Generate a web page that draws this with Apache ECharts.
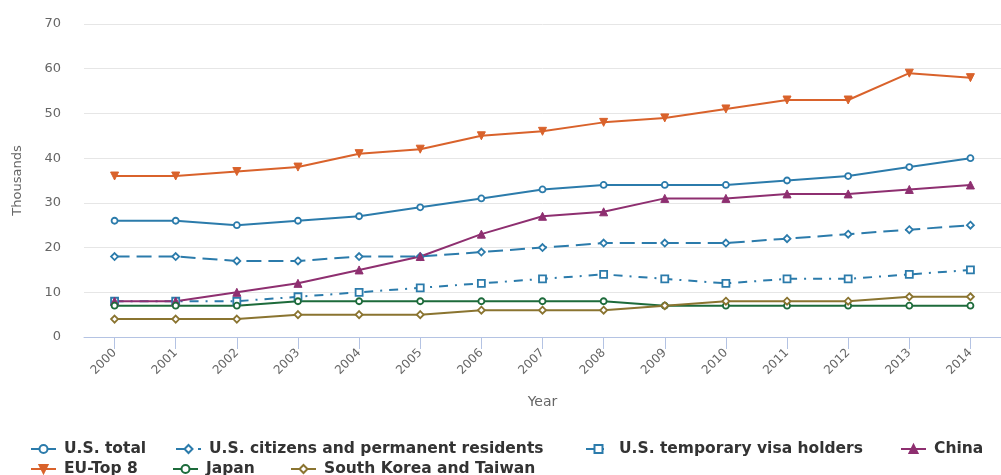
<!DOCTYPE html>
<html><head><meta charset="utf-8">
<script src="https://cdn.jsdelivr.net/npm/echarts@6/dist/echarts.min.js"></script>
<style>html,body{margin:0;padding:0;background:#fff}#c{width:1001px;height:475px}</style>
</head><body><div id="c"></div>
<script>
const years = ['2000','2001','2002','2003','2004','2005','2006','2007','2008','2009','2010','2011','2012','2013','2014'];
const usTotal = [26,26,25,26,27,29,31,33,34,34,34,35,36,38,40];
const usCitizens = [18,18,17,17,18,18,19,20,21,21,21,22,23,24,25];
const usTemp = [8,8,8,9,10,11,12,13,14,13,12,13,13,14,15];
const china = [8,8,10,12,15,18,23,27,28,31,31,32,32,33,34];
const euTop8 = [36,36,37,38,41,42,45,46,48,49,51,53,53,59,58];
const japan = [7,7,7,8,8,8,8,8,8,7,7,7,7,7,7];
const skTaiwan = [4,4,4,5,5,5,6,6,6,7,8,8,8,9,9];
const seriesNames = ['U.S. total','U.S. citizens and permanent residents','U.S. temporary visa holders','China','EU-Top 8','Japan','South Korea and Taiwan'];

const blue = '#2b7bab', orange = '#d9622b', purple = '#8e2f70', green = '#1d6b3b', gold = '#8a7430';
function s(name, data, color, symbol, size, dash, filled) {
  return {
    name, type: 'line', data, symbol, symbolSize: size,
    lineStyle: { color, width: 2, type: dash || 'solid' },
    itemStyle: { color: filled ? color : '#fff', borderColor: color, borderWidth: filled ? 1 : 1.8 },
    emphasis: { disabled: true }
  };
}
const legendText = { color: '#333', fontSize: 15.5, fontWeight: 'bold', fontFamily: 'DejaVu Sans', padding: [0, 0, 0, 3] };
// legend item placement (left, top) per entry
const legendPos = [[30, 441], [175, 441], [585, 441], [900, 441], [30, 461], [172, 461], [290, 461]];
const legends = seriesNames.map((n, i) => ({
  left: legendPos[i][0], top: legendPos[i][1], padding: 0,
  itemWidth: 25, itemHeight: 10, textStyle: legendText, data: [n]
}));
const chart = echarts.init(document.getElementById('c'));
chart.setOption({
  animation: false,
  grid: { left: 84, right: -13, top: 24, bottom: 138, containLabel: false },
  xAxis: {
    type: 'category', data: years, boundaryGap: true,
    name: 'Year', nameLocation: 'middle', nameGap: 58,
    nameTextStyle: { color: '#666', fontSize: 14, fontFamily: 'DejaVu Sans' },
    axisLine: { show: true, lineStyle: { color: '#b4c3e3', width: 1 } },
    axisTick: { show: true, interval: 0, alignWithLabel: true, length: 12, lineStyle: { color: '#b4c3e3', width: 1 } },
    axisLabel: { rotate: 45, color: '#666', fontSize: 12, fontFamily: 'DejaVu Sans', margin: 14 }
  },
  yAxis: {
    type: 'value', min: 0, max: 70, interval: 10,
    name: 'Thousands', nameLocation: 'middle', nameGap: 60,
    nameTextStyle: { color: '#666', fontSize: 13, fontFamily: 'DejaVu Sans' },
    axisLine: { show: false }, axisTick: { show: false },
    splitLine: { lineStyle: { color: '#e6e6e6' } },
    axisLabel: { color: '#666', fontSize: 13, fontFamily: 'DejaVu Sans', margin: 23 }
  },
  legend: legends,
  series: [
    s(seriesNames[0], usTotal, blue, 'circle', 6, 'solid', false),
    s(seriesNames[1], usCitizens, blue, 'diamond', 7, [15, 7], false),
    s(seriesNames[2], usTemp, blue, 'rect', 7, [9, 7, 2, 7], false),
    s(seriesNames[3], china, purple, 'triangle', 8, 'solid', true),
    s(seriesNames[4], euTop8, orange, 'path://M0,0 L10,0 L5,9 Z', 8, 'solid', true),
    s(seriesNames[5], japan, green, 'circle', 6, 'solid', false),
    s(seriesNames[6], skTaiwan, gold, 'diamond', 7, 'solid', false)
  ]
});
</script></body></html>
